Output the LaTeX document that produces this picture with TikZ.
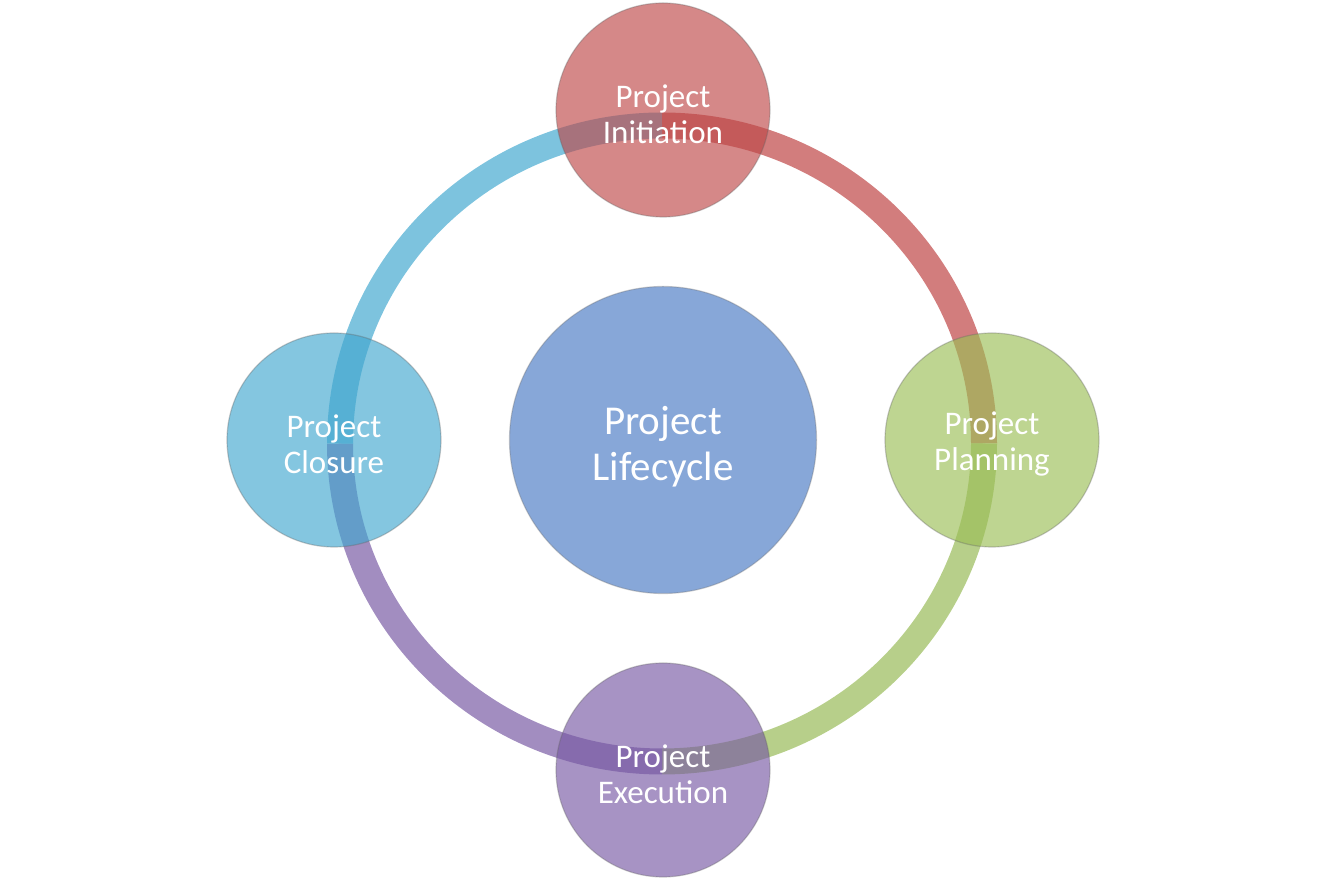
\documentclass[tikz,border=0pt]{standalone}
\usepackage{fontspec}
\setmainfont{Carlito}
\definecolor{ringRed}{RGB}{210,125,125}
\definecolor{ringGreen}{RGB}{183,207,138}
\definecolor{ringBlue}{RGB}{125,195,222}
\definecolor{ringPurple}{RGB}{162,141,192}
\definecolor{cRed}{RGB}{190,72,72}
\definecolor{cGreen}{RGB}{155,190,86}
\definecolor{cBlue}{RGB}{66,167,207}
\definecolor{cPurple}{RGB}{120,89,164}
\definecolor{cCenter}{RGB}{135,167,216}
\newcommand{\topstrutA}{\rule{0pt}{31pt}}
\newcommand{\topstrutB}{\rule{0pt}{41pt}}
\begin{document}
\begin{tikzpicture}[x=1pt,y=1pt,
  ringseg/.style={line width=26pt, line cap=butt},
  phase/.style={circle, minimum size=214pt, inner sep=0pt, fill opacity=0.65, text opacity=1,
    draw=black!60, draw opacity=0.35, line width=1.2pt, text=white, align=center,
    font=\fontsize{33}{36}\selectfont},
  hub/.style={circle, minimum size=307pt, inner sep=0pt, fill=cCenter,
    draw=black!55, draw opacity=0.35, line width=1.2pt, text=white, align=center,
    font=\fontsize{41}{46}\selectfont}]
\useasboundingbox (0,0) rectangle (1326,880);
% ring points
\coordinate (rT) at (662,754.5);
\coordinate (rR) at (984,436.5);
\coordinate (rB) at (662,118.5);
\coordinate (rL) at (340,436.5);
\draw[ringseg, ringRed] (rT) arc[start angle=90, end angle=0, x radius=322, y radius=318];
\draw[ringseg, ringGreen] (rR) arc[start angle=0, end angle=-90, x radius=322, y radius=318];
\draw[ringseg, ringPurple] (rB) arc[start angle=-90, end angle=-180, x radius=322, y radius=318];
\draw[ringseg, ringBlue] (rL) arc[start angle=180, end angle=90, x radius=322, y radius=318];
% nodes
\node[hub] (hub) at (663,440) {\topstrutB Project\\Lifecycle};
\node[phase, fill=cRed] (init) at (663,770) {\topstrutA Project\\Initiation};
\node[phase, fill=cGreen] (plan) at (992,440) {\topstrutA Project\\Planning};
\node[phase, fill=cPurple] (exec) at (663,110) {\topstrutA Project\\Execution};
\node[phase, fill=cBlue] (clos) at (334,440) {\topstrutA Project\\Closure};
\end{tikzpicture}
\end{document}
